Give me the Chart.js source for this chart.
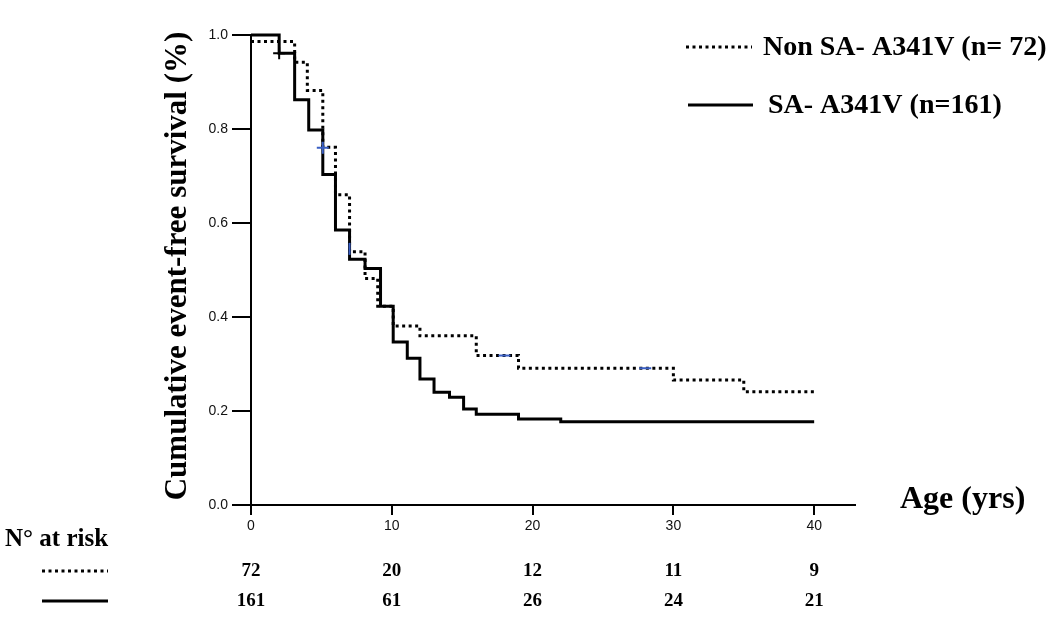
<!DOCTYPE html>
<html>
<head>
<meta charset="utf-8">
<script src="https://cdn.jsdelivr.net/npm/chart.js@4.4.0/dist/chart.umd.min.js"></script>
<style>
  html, body { margin: 0; padding: 0; background: #fff; }
  #wrap { width: 1050px; height: 626px; }
</style>
</head>
<body>
<div id="wrap"><canvas id="km" width="1050" height="626"></canvas></div>
<script>
// SA-A341V group (solid line)
const saAges = [0, 2, 3.1, 4.1, 5.1, 6, 7, 8.1, 9.2, 10.1, 11.1, 12, 13, 14.1, 15.1, 16, 19, 22, 40];
const saSurv = [1.0, 0.961, 0.862, 0.798, 0.703, 0.585, 0.523, 0.503, 0.423, 0.347, 0.312, 0.268, 0.240, 0.229, 0.204, 0.193, 0.183, 0.177, 0.177];

// Non SA-A341V group (dotted line)
const nonAges = [0, 3.1, 4, 5.1, 6, 7, 8.1, 9, 10.1, 12, 16, 19, 30, 35, 40];
const nonSurv = [0.986, 0.942, 0.882, 0.761, 0.66, 0.539, 0.482, 0.423, 0.381, 0.360, 0.318, 0.291, 0.266, 0.241, 0.241];

// censored marks
const censorAges = [2, 5.1, 7, 18, 28];
const censorSurv = [0.961, 0.76, 0.545, 0.318, 0.291];
const censorStyle = ['cross', 'cross', 'line', 'line', 'line'];
const censorRot = [0, 0, 90, 0, 0];
const censorColor = ['#000', '#3a5fc4', '#3a5fc4', '#3a5fc4', '#3a5fc4'];

// number at risk table
const riskAges = [0, 10, 20, 30, 40];
const nonRisk = [72, 20, 12, 11, 9];
const saRisk = [161, 61, 26, 24, 21];

const nonLabel = 'Non SA- A341V (n= 72)';
const saLabel = 'SA- A341V (n=161)';

const serif = '"Liberation Serif", "Times New Roman", serif';
const sans = '"Liberation Sans", Arial, sans-serif';

function pts(xs, ys) {
    return xs.map((x, i) => ({ x: x, y: ys[i] }));
}

const extras = {
    id: 'extras',
    afterDraw(chart) {
        const ctx = chart.ctx;
        const xs = chart.scales.x;
        ctx.save();
        ctx.fillStyle = '#000';
        ctx.strokeStyle = '#000';

        // y axis title
        ctx.save();
        ctx.translate(178, 266);
        ctx.rotate(-Math.PI / 2);
        ctx.font = 'bold 31px ' + serif;
        ctx.textAlign = 'center';
        ctx.textBaseline = 'middle';
        ctx.fillText('Cumulative event-free survival (%)', 0, 0);
        ctx.restore();

        // legend
        ctx.lineWidth = 3;
        ctx.setLineDash([3, 3.5]);
        ctx.beginPath(); ctx.moveTo(686, 47); ctx.lineTo(752, 47); ctx.stroke();
        ctx.setLineDash([]);
        ctx.beginPath(); ctx.moveTo(688, 105); ctx.lineTo(753, 105); ctx.stroke();
        ctx.font = 'bold 28px ' + serif;
        ctx.textAlign = 'left';
        ctx.textBaseline = 'middle';
        ctx.fillText(nonLabel, 763, 48);
        ctx.fillText(saLabel, 768, 106);

        // x axis title
        ctx.font = 'bold 32px ' + serif;
        ctx.fillText('Age (yrs)', 900, 500);

        // at risk table
        ctx.font = 'bold 25px ' + serif;
        ctx.fillText('N\u00b0 at risk', 5, 540);
        ctx.setLineDash([3, 3.5]);
        ctx.beginPath(); ctx.moveTo(42, 571); ctx.lineTo(108, 571); ctx.stroke();
        ctx.setLineDash([]);
        ctx.beginPath(); ctx.moveTo(42, 601); ctx.lineTo(108, 601); ctx.stroke();

        ctx.font = 'bold 19px ' + serif;
        ctx.textAlign = 'center';
        riskAges.forEach((a, i) => {
            const px = xs.getPixelForValue(a);
            ctx.fillText(String(nonRisk[i]), px, 571);
            ctx.fillText(String(saRisk[i]), px, 601);
        });
        ctx.restore();
    }
};

new Chart(document.getElementById('km'), {
    type: 'line',
    data: {
        datasets: [
            {
                label: nonLabel,
                data: pts(nonAges, nonSurv),
                stepped: 'before',
                borderColor: '#000',
                borderWidth: 3,
                borderDash: [3, 3.5],
                pointRadius: 0,
                fill: false,
                clip: false,
                order: 1
            },
            {
                label: saLabel,
                data: pts(saAges, saSurv),
                stepped: 'before',
                borderColor: '#000',
                borderWidth: 3,
                pointRadius: 0,
                fill: false,
                clip: false,
                order: 1
            },
            {
                label: 'censored',
                data: pts(censorAges, censorSurv),
                showLine: false,
                pointStyle: censorStyle,
                pointRotation: censorRot,
                pointRadius: 6,
                pointBorderWidth: 2,
                pointBorderColor: censorColor,
                pointBackgroundColor: censorColor,
                clip: false,
                order: 0
            }
        ]
    },
    options: {
        responsive: false,
        animation: false,
        layout: { padding: { left: 0, right: 195, top: 35, bottom: 0 } },
        plugins: {
            legend: { display: false },
            tooltip: { enabled: false }
        },
        scales: {
            x: {
                type: 'linear',
                min: 0,
                max: 42.9,
                ticks: {
                    stepSize: 10,
                    includeBounds: false,
                    maxRotation: 0,
                    color: '#111',
                    padding: 3,
                    font: { family: sans, size: 14 }
                },
                grid: { drawOnChartArea: false, tickLength: 10, color: '#000', lineWidth: 2 },
                border: { color: '#000', width: 2 },
                afterFit: s => { s.height = 121; }
            },
            y: {
                min: 0,
                max: 1,
                ticks: {
                    stepSize: 0.2,
                    color: '#111',
                    padding: 4,
                    font: { family: sans, size: 14 },
                    callback: v => v.toFixed(1)
                },
                grid: { drawOnChartArea: false, tickLength: 19, color: '#000', lineWidth: 2 },
                border: { color: '#000', width: 2 },
                afterFit: s => { s.width = 251; }
            }
        }
    },
    plugins: [extras]
});
</script>
</body>
</html>
